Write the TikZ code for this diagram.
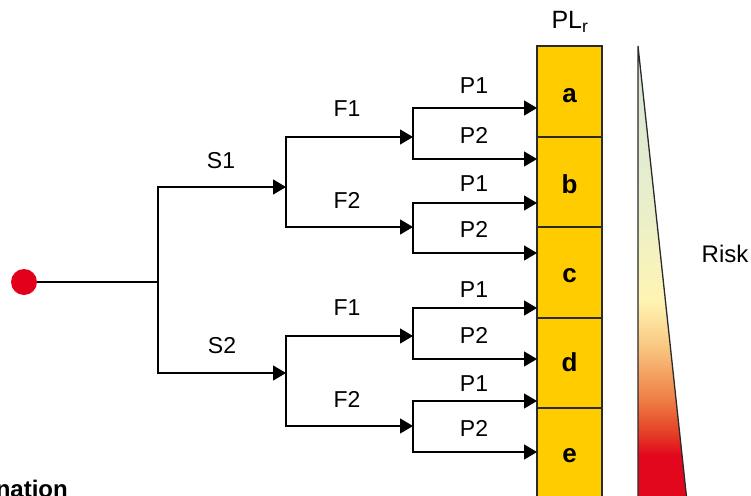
\documentclass[tikz,border=0pt]{standalone}
\usepackage{fontspec}
\setmainfont{Liberation Sans}
\usetikzlibrary{arrows.meta}
\definecolor{plyellow}{HTML}{FFCC00}
\definecolor{dotred}{HTML}{E2001A}
\definecolor{edgegray}{HTML}{2A2A2A}
\definecolor{rk0}{HTML}{D5E5D6}
\definecolor{rk1}{HTML}{E9EFCB}
\definecolor{rk2}{HTML}{FFF5B3}
\definecolor{rk3}{HTML}{F9C983}
\definecolor{rk4}{HTML}{EE7E45}
\definecolor{rk5}{HTML}{E43A24}
\definecolor{rk6}{HTML}{E2071D}
\begin{document}
\begin{tikzpicture}[x=1pt,y=-1pt,
  line/.style={line width=1.3pt, draw=black},
  arr/.style={line, -{Triangle[length=13pt,width=15pt]}},
  lbl/.style={font=\fontsize{23}{27}\selectfont, anchor=base, inner sep=0pt},
  cell/.style={draw=edgegray, line width=1.3pt, fill=plyellow, minimum width=65pt,
    minimum height=90.5pt, inner sep=0pt},
  letter/.style={anchor=base, inner sep=0pt, font=\bfseries\fontsize{26}{30}\selectfont},
  divider/.style={draw=edgegray, line width=1.3pt},
  dotnode/.style={circle, fill=dotred, minimum size=26pt, inner sep=0pt}
]
\useasboundingbox (0,0) rectangle (751,495);

% start dot and junctions
\node[dotnode] (dot) at (24,282) {};
\coordinate (j0) at (158,282);
\coordinate (s1) at (286,187);
\coordinate (s2) at (286,373);
\coordinate (f11) at (413,137);
\coordinate (f12) at (413,227);
\coordinate (f21) at (413,336);
\coordinate (f22) at (413,426);
\coordinate (t1) at (537,108);
\coordinate (t2) at (537,159);
\coordinate (t3) at (537,203);
\coordinate (t4) at (537,253);
\coordinate (t5) at (537,308);
\coordinate (t6) at (537,359);
\coordinate (t7) at (537,401);
\coordinate (t8) at (537,452);

% risk triangle
\begin{scope}
  \clip (638,46) -- (689,520) -- (638,520) -- cycle;
  \shade[top color=rk0, bottom color=rk1] (630,40) rectangle (700,210);
  \shade[top color=rk1, bottom color=rk2] (630,210) rectangle (700,300);
  \shade[top color=rk2, bottom color=rk3] (630,300) rectangle (700,345);
  \shade[top color=rk3, bottom color=rk4] (630,345) rectangle (700,400);
  \shade[top color=rk4, bottom color=rk5] (630,400) rectangle (700,435);
  \shade[top color=rk5, bottom color=rk6] (630,435) rectangle (700,455);
  \fill[rk6] (630,455) rectangle (700,525);
\end{scope}
\coordinate (rtop) at (638,46);
\coordinate (rbl) at (638,520);
\coordinate (rbr) at (689,520);
\draw[line width=1.3pt, draw=edgegray] (rbl) -- (rtop) -- (rbr);

% PL column
\node[cell] (a) at (569.5,91.25) {};
\node[cell] (b) at (569.5,181.75) {};
\node[cell] (c) at (569.5,272.25) {};
\node[cell] (d) at (569.5,362.75) {};
\node[cell] (e) at (569.5,453.25) {};
\draw[divider] (a.south west) -- (a.south east);
\draw[divider] (b.south west) -- (b.south east);
\draw[divider] (c.south west) -- (c.south east);
\draw[divider] (d.south west) -- (d.south east);
\node[letter] (la) at (569.5,102) {a};
\node[letter] (lb) at (569.5,193) {b};
\node[letter] (lc) at (569.5,282) {c};
\node[letter] (ld) at (569.5,371) {d};
\node[letter] (le) at (569.5,462) {e};

% connectors
\draw[line] (dot) -- (j0);
\draw[arr] (j0) |- (s1);
\draw[arr] (j0) |- (s2);
\draw[arr] (s1) |- (f11);
\draw[arr] (s1) |- (f12);
\draw[arr] (s2) |- (f21);
\draw[arr] (s2) |- (f22);
\draw[arr] (f11) |- (t1);
\draw[arr] (f11) |- (t2);
\draw[arr] (f12) |- (t3);
\draw[arr] (f12) |- (t4);
\draw[arr] (f21) |- (t5);
\draw[arr] (f21) |- (t6);
\draw[arr] (f22) |- (t7);
\draw[arr] (f22) |- (t8);

% labels
\node[lbl] (ls1) at (221,168) {S1};
\node[lbl] (ls2) at (222,353) {S2};
\node[lbl] (lf11) at (347,116) {F1};
\node[lbl] (lf12) at (347,208) {F2};
\node[lbl] (lf21) at (347,315) {F1};
\node[lbl] (lf22) at (347,407) {F2};
\node[lbl] (lp1) at (474,93) {P1};
\node[lbl] (lp2) at (474,143) {P2};
\node[lbl] (lp3) at (474,191) {P1};
\node[lbl] (lp4) at (474,237) {P2};
\node[lbl] (lp5) at (474,297) {P1};
\node[lbl] (lp6) at (474,343) {P2};
\node[lbl] (lp7) at (474,391) {P1};
\node[lbl] (lp8) at (474,436) {P2};
\node[lbl, font=\fontsize{25}{30}\selectfont] (plr) at (570,29) {PL\textsubscript{r}};
\node[lbl, font=\fontsize{24}{28}\selectfont] (risk) at (725,262) {Risk};
\node[anchor=base east, inner sep=0pt, font=\bfseries\fontsize{24}{28}\selectfont] (nat) at (68,497) {nation};
\end{tikzpicture}
\end{document}
